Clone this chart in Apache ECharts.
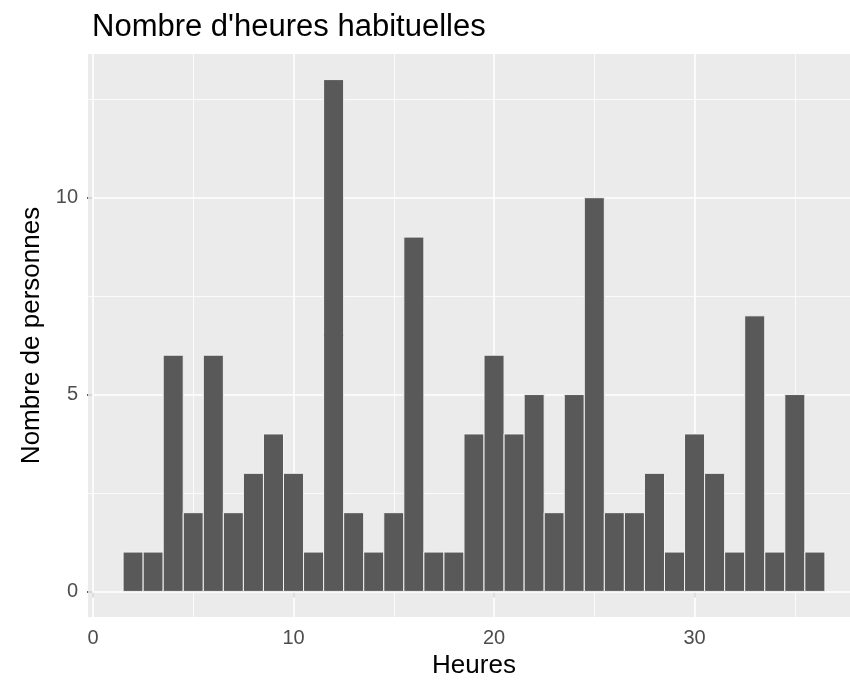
<!DOCTYPE html>
<html>
<head>
<meta charset="utf-8">
<script src="https://cdn.jsdelivr.net/npm/echarts@6/dist/echarts.min.js"></script>
<style>
  html, body { margin: 0; padding: 0; background: #fff; }
  #main { width: 850px; height: 681px; }
</style>
</head>
<body>
<div id="main"></div>
<script>
// heures (centre de chaque classe) et nombre de personnes
const heures = [2, 3, 4, 5, 6, 7, 8, 9, 10, 11, 12, 13, 14, 15, 16, 17, 18, 19,
  20, 21, 22, 23, 24, 25, 26, 27, 28, 29, 30, 31, 32, 33, 34, 35, 36];
const personnes = [1, 1, 6, 2, 6, 2, 3, 4, 3, 1, 13, 2, 1, 2, 9, 1, 1, 4,
  6, 4, 5, 2, 5, 10, 2, 2, 3, 1, 4, 3, 1, 7, 1, 5, 1];
const xTicks = [0, 10, 20, 30];
const xMinor = [5, 15, 25, 35];
const yTicks = [0, 5, 10];
const yMinor = [2.5, 7.5, 12.5];

const chart = echarts.init(document.getElementById('main'));
const font = 'Liberation Sans, Arial, sans-serif';

// lignes de grille (majeures / mineures) comme dans ggplot
const gridLines = []
xTicks.forEach(v => gridLines.push({ xAxis: v, lineStyle: { width: 1.6 } }))
xMinor.forEach(v => gridLines.push({ xAxis: v, lineStyle: { width: 0.8 } }))
yTicks.forEach(v => gridLines.push({ yAxis: v, lineStyle: { width: 1.6 } }))
yMinor.forEach(v => gridLines.push({ yAxis: v, lineStyle: { width: 0.8 } }))

const option = {
  animation: false,
  title: {
    text: "Nombre d'heures habituelles",
    left: 87, top: 7,
    textStyle: { fontFamily: font, fontWeight: 'normal', fontSize: 31, color: '#000' }
  },
  grid: {
    left: 88, top: 54, width: 772, height: 563,
    outerBoundsMode: 'none', containLabel: false,
    show: true, backgroundColor: '#EBEBEB', borderWidth: 0
  },
  xAxis: {
    type: 'value', min: -0.25, max: 38.25,
    name: 'Heures', nameLocation: 'middle', nameGap: 36,
    nameTextStyle: { fontFamily: font, fontSize: 26, color: '#000' },
    axisLine: { show: false },
    axisTick: { show: true, length: 6, customValues: xTicks, lineStyle: { color: '#333', width: 1.6 } },
    axisLabel: { customValues: xTicks, fontFamily: font, fontSize: 20, color: '#4D4D4D', margin: 11 },
    splitLine: { show: false }
  },
  yAxis: {
    type: 'value', min: -0.65, max: 13.65,
    name: 'Nombre de personnes', nameLocation: 'middle', nameGap: 43,
    nameTextStyle: { fontFamily: font, fontSize: 26, color: '#000' },
    axisLine: { show: false },
    axisTick: { show: true, length: 6, customValues: yTicks, lineStyle: { color: '#333', width: 1.6 } },
    axisLabel: { customValues: yTicks, fontFamily: font, fontSize: 20, color: '#4D4D4D', margin: 10 },
    splitLine: { show: false }
  },
  series: [{
    type: 'custom',
    z: 3,
    data: heures.map((h, i) => [h, personnes[i]]),
    renderItem: function (params, api) {
      const x = api.value(0)
      const y = api.value(1)
      const p0 = api.coord([x - 0.5, y])
      const p1 = api.coord([x + 0.5, 0])
      return {
        type: 'rect',
        shape: { x: p0[0], y: p0[1], width: p1[0] - p0[0], height: p1[1] - p0[1] },
        style: { fill: '#595959', stroke: '#F2F2F2', lineWidth: 1 }
      }
    },
    markLine: {
      silent: true, symbol: 'none', z: 1,
      label: { show: false },
      lineStyle: { color: '#fff', type: 'solid' },
      data: gridLines
    }
  }]
};
chart.setOption(option);
</script>
</body>
</html>
